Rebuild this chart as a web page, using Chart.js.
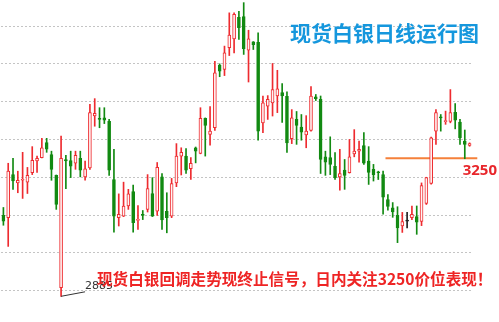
<!DOCTYPE html>
<html>
<head>
<meta charset="utf-8">
<script src="https://cdn.jsdelivr.net/npm/chart.js@4.4.1/dist/chart.umd.min.js"></script>
<style>
  html, body { margin: 0; padding: 0; background: #fff; }
  #wrap { width: 499px; height: 322px; position: relative; }
</style>
</head>
<body>
<div id="wrap"><canvas id="chart"></canvas></div>
<script>
// daily silver OHLC
const opens = [3099,3093,3207,3185,3192,3187,3212,3243,3252,3292,3260,3205,2908,3247,3244,3237,3250,3201,3225,3362,
  3355,3357,3348,3194,3093,3097,3124,3162,3086,3102,3115,3157,3110,3201,3110,3097,3185,3256,3256,3223,
  3278,3263,3356,3313,3331,3497,3485,3543,3566,3623,3625,3536,3558,3557,3344,3388,3397,3415,3424,3414,
  3302,3353,3333,3312,3324,3413,3406,3254,3252,3229,3201,3219,3212,3262,3269,3284,3243,3221,3213,3207,
  3141,3119,3099,3071,3084,3093,3096,3083,3131,3184,3322,3360,3347,3348,3372,3346,3296,3284];
const highs = [3120,3237,3250,3216,3266,3226,3281,3256,3303,3303,3269,3206,3309,3258,3269,3269,3269,3243,3393,3408,
  3384,3384,3353,3274,3156,3187,3168,3179,3125,3112,3207,3199,3239,3210,3159,3197,3289,3278,3276,3252,
  3280,3384,3357,3387,3507,3500,3547,3635,3635,3639,3662,3589,3559,3582,3415,3416,3501,3483,3448,3426,
  3379,3374,3366,3363,3440,3419,3415,3269,3307,3265,3274,3247,3300,3326,3296,3318,3281,3234,3216,3216,
  3154,3133,3122,3107,3107,3124,3124,3185,3200,3306,3379,3366,3375,3432,3395,3353,3325,3291];
const lows = [3073,3017,3168,3159,3144,3157,3207,3213,3251,3266,3192,3115,2885,3170,3199,3221,3201,3192,3221,3335,
  3331,3342,3205,3055,3071,3096,3115,3055,3062,3088,3108,3096,3099,3062,3053,3093,3175,3206,3210,3194,
  3238,3262,3256,3285,3324,3466,3469,3522,3529,3565,3525,3452,3538,3298,3318,3353,3362,3371,3345,3266,
  3289,3287,3298,3278,3322,3403,3210,3205,3207,3194,3166,3168,3211,3254,3240,3234,3181,3190,3194,3102,
  3113,3094,3027,3054,3066,3088,3049,3072,3128,3182,3287,3322,3340,3344,3328,3287,3249,3282];
const closes = [3084,3216,3190,3192,3194,3205,3245,3250,3278,3274,3221,3128,3250,3243,3229,3258,3219,3222,3371,3369,
  3353,3351,3219,3097,3102,3124,3156,3080,3088,3099,3170,3097,3226,3087,3093,3183,3256,3266,3219,3237,
  3269,3356,3337,3322,3476,3481,3529,3576,3631,3596,3540,3566,3551,3322,3397,3406,3432,3434,3415,3291,
  3357,3337,3319,3322,3415,3408,3247,3240,3234,3199,3210,3205,3254,3269,3274,3237,3213,3207,3212,3147,
  3123,3108,3066,3083,3084,3102,3081,3178,3199,3304,3371,3357,3348,3371,3351,3304,3287,3289];
const days = opens.map((_, i) => i + 1);
const gridTicks = [2900, 3000, 3100, 3200, 3300, 3400, 3500, 3600];

const keyLevel = 3250;
const lowMark = 2885;
const lowIndex = 12;

const UP = '#ee2b2f';
const DOWN = '#128a12';
const DOJI = '#222222';

const candleColor = opens.map((o, i) => closes[i] > o ? UP : (closes[i] < o ? DOWN : DOJI));

const overlay = {
  id: 'overlay',
  beforeDatasetsDraw(chart) {
    const { ctx, scales: { x, y } } = chart;
    const ly = y.getPixelForValue(keyLevel);
    ctx.save();
    ctx.strokeStyle = '#f5803a';
    ctx.lineWidth = 2;
    ctx.beginPath();
    ctx.moveTo(x.getPixelForValue(79.5), ly);
    ctx.lineTo(x.getPixelForValue(98.6), ly);
    ctx.stroke();
    ctx.restore();
  },
  afterDraw(chart) {
    const { ctx, scales: { x, y } } = chart;
    ctx.save();
    // leader line to the low
    const lx = x.getPixelForValue(lowIndex);
    const lyLow = y.getPixelForValue(lowMark);
    ctx.strokeStyle = '#333';
    ctx.lineWidth = 1;
    ctx.beginPath();
    ctx.moveTo(lx, lyLow);
    ctx.lineTo(lx + 24, lyLow - 4.5);
    ctx.stroke();
    ctx.fillStyle = '#333';
    ctx.font = '11px "DejaVu Sans", sans-serif';
    ctx.textAlign = 'left';
    ctx.textBaseline = 'middle';
    ctx.fillText(String(lowMark), lx + 24, lyLow - 10);

    // key level label
    ctx.fillStyle = '#e8262b';
    ctx.font = 'bold 15px "Noto Sans", sans-serif';
    ctx.textAlign = 'right';
    ctx.fillText(String(keyLevel), 497, y.getPixelForValue(keyLevel) + 12);

    // title
    ctx.fillStyle = '#1597dd';
    ctx.font = 'bold 21px "Noto Sans CJK SC", sans-serif';
    ctx.textAlign = 'center';
    ctx.fillText('现货白银日线运行图', 384.5, 33);

    // comment
    ctx.fillStyle = '#ee2424';
    ctx.font = 'bold 15.6px "Noto Sans CJK SC", sans-serif';
    ctx.textAlign = 'left';
    ctx.fillText('现货白银回调走势现终止信号，日内关注3250价位表现！', 97, 279);
    ctx.restore();
  }
};

new Chart(document.getElementById('chart'), {
  type: 'bar',
  data: {
    labels: days,
    datasets: [
      {
        label: 'body',
        data: opens.map((o, i) => [o, closes[i]]),
        backgroundColor: candleColor.map(c => c === UP ? '#fff4f4' : c),
        borderColor: candleColor,
        borderWidth: 1,
        borderSkipped: false,
        barThickness: 3,
        minBarLength: 1,
        grouped: false,
        order: 0
      },
      {
        label: 'wick',
        data: lows.map((l, i) => [l, highs[i]]),
        backgroundColor: candleColor,
        borderWidth: 0,
        barThickness: 1,
        grouped: false,
        order: 1
      }
    ]
  },
  options: {
    responsive: true,
    maintainAspectRatio: false,
    animation: false,
    layout: { padding: { left: 1, right: 27, top: 0, bottom: 0 } },
    scales: {
      x: { display: false },
      y: {
        min: 2817,
        max: 3669,
        afterBuildTicks: (scale) => { scale.ticks = gridTicks.map(v => ({ value: v })); },
        ticks: { display: false },
        grid: { color: '#c4c4c4', drawTicks: false, lineWidth: 1 },
        border: { display: false, dash: [2, 2] }
      }
    },
    plugins: {
      legend: { display: false },
      tooltip: { enabled: false }
    }
  },
  plugins: [overlay]
});
</script>
</body>
</html>
